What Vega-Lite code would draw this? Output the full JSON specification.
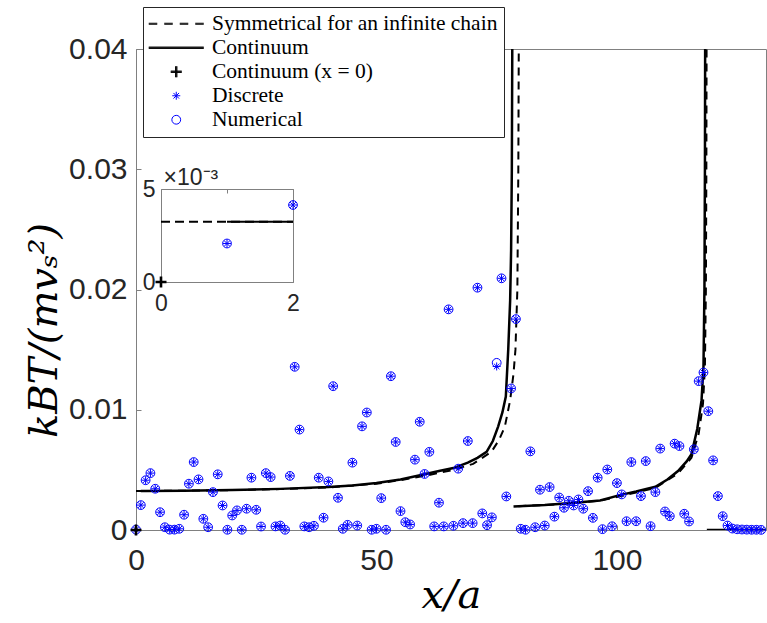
{
  "$schema": "https://vega.github.io/schema/vega-lite/v6.json",
  "width": 630,
  "height": 481,
  "autosize": {"type": "none"},
  "padding": {"left": 136, "top": 49, "right": 1, "bottom": 93},
  "background": "white",
  "config": {
    "view": {"stroke": "#808080", "strokeWidth": 1},
    "axis": {"grid": false, "domainColor": "#808080", "tickColor": "#808080", "labelColor": "#262626", "labelFont": "Liberation Sans", "titleFontWeight": "normal", "titleColor": "black"},
    "legend": {"orient": "none", "legendX": 7, "legendY": -42, "padding": 6, "fillColor": "white", "strokeColor": "#262626", "labelFont": "Liberation Serif", "labelFontSize": 21.5, "labelColor": "black", "labelOffset": 25, "symbolOffset": 16.5, "symbolSize": 400, "symbolStrokeWidth": 1, "rowPadding": 1, "labelLimit": 0}
  },
  "datasets": {
    "sites": [
      {"x": 0, "Discrete": 0.00003, "Numerical": 0.00003},
      {"x": 1, "Discrete": 0.00207, "Numerical": 0.00207},
      {"x": 2, "Discrete": 0.00414, "Numerical": 0.00414},
      {"x": 3, "Discrete": 0.00473, "Numerical": 0.00473},
      {"x": 4, "Discrete": 0.00343, "Numerical": 0.00343},
      {"x": 5, "Discrete": 0.00148, "Numerical": 0.00148},
      {"x": 6, "Discrete": 0.00023, "Numerical": 0.00023},
      {"x": 7, "Discrete": 0.00003, "Numerical": 0.00003},
      {"x": 8, "Discrete": 0.00003, "Numerical": 0.00003},
      {"x": 9, "Discrete": 0.0001, "Numerical": 0.0001},
      {"x": 10, "Discrete": 0.00127, "Numerical": 0.00127},
      {"x": 11, "Discrete": 0.00385, "Numerical": 0.00385},
      {"x": 12, "Discrete": 0.00565, "Numerical": 0.00565},
      {"x": 13, "Discrete": 0.00421, "Numerical": 0.00421},
      {"x": 14, "Discrete": 0.00093, "Numerical": 0.00093},
      {"x": 15, "Discrete": 0.00023, "Numerical": 0.00023},
      {"x": 16, "Discrete": 0.00315, "Numerical": 0.00315},
      {"x": 17, "Discrete": 0.00463, "Numerical": 0.00463},
      {"x": 18, "Discrete": 0.00204, "Numerical": 0.00204},
      {"x": 19, "Discrete": 0.00002, "Numerical": 0.00002},
      {"x": 20, "Discrete": 0.00121, "Numerical": 0.00121},
      {"x": 21, "Discrete": 0.00163, "Numerical": 0.00163},
      {"x": 22, "Discrete": 0.00002, "Numerical": 0.00002},
      {"x": 23, "Discrete": 0.00177, "Numerical": 0.00177},
      {"x": 24, "Discrete": 0.00435, "Numerical": 0.00435},
      {"x": 25, "Discrete": 0.00168, "Numerical": 0.00168},
      {"x": 26, "Discrete": 0.00029, "Numerical": 0.00029},
      {"x": 27, "Discrete": 0.00473, "Numerical": 0.00473},
      {"x": 28, "Discrete": 0.0044, "Numerical": 0.0044},
      {"x": 29, "Discrete": 0.0003, "Numerical": 0.0003},
      {"x": 30, "Discrete": 0.00037, "Numerical": 0.00037},
      {"x": 31, "Discrete": 0.00002, "Numerical": 0.00002},
      {"x": 32, "Discrete": 0.0045, "Numerical": 0.0045},
      {"x": 33, "Discrete": 0.01357, "Numerical": 0.01357},
      {"x": 34, "Discrete": 0.00835, "Numerical": 0.00835},
      {"x": 35, "Discrete": 0.0003, "Numerical": 0.0003},
      {"x": 36, "Discrete": 0.00023, "Numerical": 0.00023},
      {"x": 37, "Discrete": 0.00035, "Numerical": 0.00035},
      {"x": 38, "Discrete": 0.00435, "Numerical": 0.00435},
      {"x": 39, "Discrete": 0.00102, "Numerical": 0.00102},
      {"x": 40, "Discrete": 0.00404, "Numerical": 0.00404},
      {"x": 41, "Discrete": 0.01196, "Numerical": 0.01196},
      {"x": 42, "Discrete": 0.00268, "Numerical": 0.00268},
      {"x": 43, "Discrete": 0.0001, "Numerical": 0.0001},
      {"x": 44, "Discrete": 0.00043, "Numerical": 0.00043},
      {"x": 45, "Discrete": 0.0056, "Numerical": 0.0056},
      {"x": 46, "Discrete": 0.00037, "Numerical": 0.00037},
      {"x": 47, "Discrete": 0.00862, "Numerical": 0.00862},
      {"x": 48, "Discrete": 0.00977, "Numerical": 0.00977},
      {"x": 49, "Discrete": 0.00002, "Numerical": 0.00002},
      {"x": 50, "Discrete": 0.0001, "Numerical": 0.0001},
      {"x": 51, "Discrete": 0.00265, "Numerical": 0.00265},
      {"x": 52, "Discrete": 0.00002, "Numerical": 0.00002},
      {"x": 53, "Discrete": 0.01279, "Numerical": 0.01279},
      {"x": 54, "Discrete": 0.00732, "Numerical": 0.00732},
      {"x": 55, "Discrete": 0.00157, "Numerical": 0.00157},
      {"x": 56, "Discrete": 0.00065, "Numerical": 0.00065},
      {"x": 57, "Discrete": 0.00046, "Numerical": 0.00046},
      {"x": 58, "Discrete": 0.00585, "Numerical": 0.00585},
      {"x": 59, "Discrete": 0.009, "Numerical": 0.009},
      {"x": 60, "Discrete": 0.00466, "Numerical": 0.00466},
      {"x": 61, "Discrete": 0.0065, "Numerical": 0.0065},
      {"x": 62, "Discrete": 0.0003, "Numerical": 0.0003},
      {"x": 63, "Discrete": 0.00227, "Numerical": 0.00227},
      {"x": 64, "Discrete": 0.0003, "Numerical": 0.0003},
      {"x": 65, "Discrete": 0.01835, "Numerical": 0.01835},
      {"x": 66, "Discrete": 0.00035, "Numerical": 0.00035},
      {"x": 67, "Discrete": 0.0051, "Numerical": 0.0051},
      {"x": 68, "Discrete": 0.00057, "Numerical": 0.00057},
      {"x": 69, "Discrete": 0.0074, "Numerical": 0.0074},
      {"x": 70, "Discrete": 0.00057, "Numerical": 0.00057},
      {"x": 71, "Discrete": 0.02015, "Numerical": 0.02015},
      {"x": 72, "Discrete": 0.00138, "Numerical": 0.00138},
      {"x": 73, "Discrete": 0.0004, "Numerical": 0.0004},
      {"x": 74, "Discrete": 0.00105, "Numerical": 0.00105},
      {"x": 75, "Discrete": 0.0136, "Numerical": 0.0139},
      {"x": 76, "Discrete": 0.02093, "Numerical": 0.02093},
      {"x": 77, "Discrete": 0.00279, "Numerical": 0.00279},
      {"x": 78, "Discrete": 0.01177, "Numerical": 0.01177},
      {"x": 79, "Discrete": 0.01754, "Numerical": 0.01754},
      {"x": 80, "Discrete": 0.0001, "Numerical": 0.0001},
      {"x": 81, "Discrete": 0.00002, "Numerical": 0.00002},
      {"x": 82, "Discrete": 0.00654, "Numerical": 0.00654},
      {"x": 83, "Discrete": 0.00023, "Numerical": 0.00023},
      {"x": 84, "Discrete": 0.00335, "Numerical": 0.00335},
      {"x": 85, "Discrete": 0.00037, "Numerical": 0.00037},
      {"x": 86, "Discrete": 0.00357, "Numerical": 0.00357},
      {"x": 87, "Discrete": 0.00111, "Numerical": 0.00111},
      {"x": 88, "Discrete": 0.0027, "Numerical": 0.0027},
      {"x": 89, "Discrete": 0.00185, "Numerical": 0.00185},
      {"x": 90, "Discrete": 0.00243, "Numerical": 0.00243},
      {"x": 91, "Discrete": 0.00204, "Numerical": 0.00204},
      {"x": 92, "Discrete": 0.00254, "Numerical": 0.00254},
      {"x": 93, "Discrete": 0.00177, "Numerical": 0.00177},
      {"x": 94, "Discrete": 0.00323, "Numerical": 0.00323},
      {"x": 95, "Discrete": 0.00101, "Numerical": 0.00101},
      {"x": 96, "Discrete": 0.00435, "Numerical": 0.00435},
      {"x": 97, "Discrete": 0.00007, "Numerical": 0.00007},
      {"x": 98, "Discrete": 0.00503, "Numerical": 0.00503},
      {"x": 99, "Discrete": 0.00031, "Numerical": 0.00031},
      {"x": 100, "Discrete": 0.0039, "Numerical": 0.0039},
      {"x": 101, "Discrete": 0.00296, "Numerical": 0.00296},
      {"x": 102, "Discrete": 0.00073, "Numerical": 0.00073},
      {"x": 103, "Discrete": 0.00565, "Numerical": 0.00565},
      {"x": 104, "Discrete": 0.00073, "Numerical": 0.00073},
      {"x": 105, "Discrete": 0.00282, "Numerical": 0.00282},
      {"x": 106, "Discrete": 0.00573, "Numerical": 0.00573},
      {"x": 107, "Discrete": 0.00032, "Numerical": 0.00032},
      {"x": 108, "Discrete": 0.00315, "Numerical": 0.00315},
      {"x": 109, "Discrete": 0.00677, "Numerical": 0.00677},
      {"x": 110, "Discrete": 0.00154, "Numerical": 0.00154},
      {"x": 111, "Discrete": 0.00115, "Numerical": 0.00115},
      {"x": 112, "Discrete": 0.00718, "Numerical": 0.00718},
      {"x": 113, "Discrete": 0.00698, "Numerical": 0.00698},
      {"x": 114, "Discrete": 0.00135, "Numerical": 0.00135},
      {"x": 115, "Discrete": 0.00071, "Numerical": 0.00071},
      {"x": 116, "Discrete": 0.00671, "Numerical": 0.00671},
      {"x": 117, "Discrete": 0.01238, "Numerical": 0.01238},
      {"x": 118, "Discrete": 0.0131, "Numerical": 0.0131},
      {"x": 119, "Discrete": 0.00988, "Numerical": 0.00988},
      {"x": 120, "Discrete": 0.00579, "Numerical": 0.00579},
      {"x": 121, "Discrete": 0.00282, "Numerical": 0.00282},
      {"x": 122, "Discrete": 0.00115, "Numerical": 0.00115},
      {"x": 123, "Discrete": 0.00037, "Numerical": 0.00037},
      {"x": 124, "Discrete": 0.00012, "Numerical": 0.00012},
      {"x": 125, "Discrete": 0.00006, "Numerical": 0.00006},
      {"x": 126, "Discrete": 0.00004, "Numerical": 0.00004},
      {"x": 127, "Discrete": 0.00003, "Numerical": 0.00003},
      {"x": 128, "Discrete": 0.00002, "Numerical": 0.00002},
      {"x": 129, "Discrete": 0.00002, "Numerical": 0.00002},
      {"x": 130, "Discrete": 0.00001, "Numerical": 0.00001}
    ],
    "curves": [
      {"curve": "sym", "seg": 1, "x": 0, "y": 0.00324},
      {"curve": "sym", "seg": 1, "x": 1, "y": 0.00324},
      {"curve": "sym", "seg": 1, "x": 2, "y": 0.00324},
      {"curve": "sym", "seg": 1, "x": 10, "y": 0.00327},
      {"curve": "sym", "seg": 1, "x": 20, "y": 0.00332},
      {"curve": "sym", "seg": 1, "x": 30, "y": 0.0034},
      {"curve": "sym", "seg": 1, "x": 40, "y": 0.00354},
      {"curve": "sym", "seg": 1, "x": 50, "y": 0.00385},
      {"curve": "sym", "seg": 1, "x": 55, "y": 0.00415},
      {"curve": "sym", "seg": 1, "x": 60, "y": 0.0045},
      {"curve": "sym", "seg": 1, "x": 66, "y": 0.005},
      {"curve": "sym", "seg": 1, "x": 70.1, "y": 0.0055},
      {"curve": "sym", "seg": 1, "x": 72, "y": 0.006},
      {"curve": "sym", "seg": 1, "x": 73.9, "y": 0.0065},
      {"curve": "sym", "seg": 1, "x": 75.5, "y": 0.0075},
      {"curve": "sym", "seg": 1, "x": 76.7, "y": 0.0086},
      {"curve": "sym", "seg": 1, "x": 77.8, "y": 0.0108},
      {"curve": "sym", "seg": 1, "x": 78.5, "y": 0.013},
      {"curve": "sym", "seg": 1, "x": 78.9, "y": 0.015},
      {"curve": "sym", "seg": 1, "x": 79.3, "y": 0.02},
      {"curve": "sym", "seg": 1, "x": 79.5, "y": 0.03},
      {"curve": "sym", "seg": 1, "x": 79.6, "y": 0.041},
      {"curve": "cont", "seg": 1, "x": 1, "y": 0.00324},
      {"curve": "cont", "seg": 1, "x": 2, "y": 0.00324},
      {"curve": "cont", "seg": 1, "x": 10, "y": 0.00327},
      {"curve": "cont", "seg": 1, "x": 20, "y": 0.00333},
      {"curve": "cont", "seg": 1, "x": 30, "y": 0.00342},
      {"curve": "cont", "seg": 1, "x": 40, "y": 0.00357},
      {"curve": "cont", "seg": 1, "x": 45, "y": 0.0037},
      {"curve": "cont", "seg": 1, "x": 50, "y": 0.0039},
      {"curve": "cont", "seg": 1, "x": 55, "y": 0.0042},
      {"curve": "cont", "seg": 1, "x": 60, "y": 0.00463},
      {"curve": "cont", "seg": 1, "x": 63, "y": 0.0049},
      {"curve": "cont", "seg": 1, "x": 66, "y": 0.00515},
      {"curve": "cont", "seg": 1, "x": 69, "y": 0.0056},
      {"curve": "cont", "seg": 1, "x": 71, "y": 0.006},
      {"curve": "cont", "seg": 1, "x": 72.9, "y": 0.0065},
      {"curve": "cont", "seg": 1, "x": 74.2, "y": 0.0074},
      {"curve": "cont", "seg": 1, "x": 75.3, "y": 0.0086},
      {"curve": "cont", "seg": 1, "x": 76.2, "y": 0.0098},
      {"curve": "cont", "seg": 1, "x": 76.9, "y": 0.0111},
      {"curve": "cont", "seg": 1, "x": 77.4, "y": 0.015},
      {"curve": "cont", "seg": 1, "x": 77.8, "y": 0.0191},
      {"curve": "cont", "seg": 1, "x": 78.0, "y": 0.0233},
      {"curve": "cont", "seg": 1, "x": 78.15, "y": 0.03},
      {"curve": "cont", "seg": 1, "x": 78.25, "y": 0.041},
      {"curve": "sym", "seg": 2, "x": 79.5, "y": 0.00198},
      {"curve": "sym", "seg": 2, "x": 85, "y": 0.00207},
      {"curve": "sym", "seg": 2, "x": 90, "y": 0.0022},
      {"curve": "sym", "seg": 2, "x": 96.5, "y": 0.00243},
      {"curve": "sym", "seg": 2, "x": 100.6, "y": 0.0028},
      {"curve": "sym", "seg": 2, "x": 108, "y": 0.0035},
      {"curve": "sym", "seg": 2, "x": 112.7, "y": 0.0047},
      {"curve": "sym", "seg": 2, "x": 115.5, "y": 0.006},
      {"curve": "sym", "seg": 2, "x": 117, "y": 0.008},
      {"curve": "sym", "seg": 2, "x": 117.9, "y": 0.0105},
      {"curve": "sym", "seg": 2, "x": 118.3, "y": 0.0136},
      {"curve": "sym", "seg": 2, "x": 118.5, "y": 0.02},
      {"curve": "sym", "seg": 2, "x": 118.6, "y": 0.03},
      {"curve": "sym", "seg": 2, "x": 118.65, "y": 0.041},
      {"curve": "cont", "seg": 2, "x": 78.5, "y": 0.00196},
      {"curve": "cont", "seg": 2, "x": 85, "y": 0.00208},
      {"curve": "cont", "seg": 2, "x": 90, "y": 0.00222},
      {"curve": "cont", "seg": 2, "x": 96.5, "y": 0.00246},
      {"curve": "cont", "seg": 2, "x": 100.6, "y": 0.0029},
      {"curve": "cont", "seg": 2, "x": 104, "y": 0.0032},
      {"curve": "cont", "seg": 2, "x": 108, "y": 0.0036},
      {"curve": "cont", "seg": 2, "x": 110.5, "y": 0.0042},
      {"curve": "cont", "seg": 2, "x": 112.7, "y": 0.0049},
      {"curve": "cont", "seg": 2, "x": 114.5, "y": 0.0057},
      {"curve": "cont", "seg": 2, "x": 115.5, "y": 0.0063},
      {"curve": "cont", "seg": 2, "x": 116.7, "y": 0.0084},
      {"curve": "cont", "seg": 2, "x": 117.6, "y": 0.0108},
      {"curve": "cont", "seg": 2, "x": 118.0, "y": 0.0136},
      {"curve": "cont", "seg": 2, "x": 118.2, "y": 0.02},
      {"curve": "cont", "seg": 2, "x": 118.3, "y": 0.03},
      {"curve": "cont", "seg": 2, "x": 118.35, "y": 0.041},
      {"curve": "cont", "seg": 3, "x": 118.7, "y": 0},
      {"curve": "cont", "seg": 3, "x": 131, "y": 0}
    ],
    "cross": [
      {"x": 0, "y": 0, "series": "Continuum (x = 0)"}
    ]
  },
  "layer": [
    {
      "layer": [
        {
          "data": {"name": "curves"},
          "transform": [{"filter": "datum.curve == 'sym'"}],
          "mark": {"type": "line", "color": "black", "strokeWidth": 2, "strokeDash": [8, 6], "clip": true},
          "encoding": {
            "x": {"field": "x", "type": "quantitative", "scale": {"domain": [0, 131], "nice": false, "zero": false},
              "axis": {"values": [0, 50, 100], "title": "x/a", "labelFlush": false, "tickSize": -5, "labelPadding": 20, "labelFontSize": 30, "titleFont": "DejaVu Serif", "titleFontStyle": "italic", "titleFontSize": 40, "titlePadding": 0}},
            "y": {"field": "y", "type": "quantitative", "scale": {"domain": [0, 0.04], "nice": false, "zero": false},
              "axis": {"values": [0, 0.01, 0.02, 0.03, 0.04], "labelExpr": "datum.value == 0 ? '0' : format(datum.value, '.2f')", "title": "kBT/(mvₛ²)", "tickSize": -5, "labelPadding": 14, "labelFontSize": 30, "titleFont": "DejaVu Serif", "titleFontStyle": "italic", "titleFontSize": 40, "titlePadding": 4, "titleY": 281}},
            "detail": {"field": "seg"}
          }
        },
        {
          "data": {"name": "curves"},
          "transform": [{"filter": "datum.curve == 'cont'"}],
          "mark": {"type": "line", "color": "black", "strokeWidth": 2.5, "clip": true},
          "encoding": {
            "x": {"field": "x", "type": "quantitative"},
            "y": {"field": "y", "type": "quantitative"},
            "detail": {"field": "seg"}
          }
        },
        {
          "data": {"name": "sites"},
          "transform": [{"fold": ["Numerical", "Discrete"], "as": ["series", "y"]}],
          "mark": {"type": "point", "filled": false, "size": 400, "opacity": 1, "strokeWidth": 1},
          "encoding": {
            "x": {"field": "x", "type": "quantitative"},
            "y": {"field": "y", "type": "quantitative"},
            "shape": {"field": "series", "type": "nominal",
              "scale": {"domain": ["Symmetrical for an infinite chain", "Continuum", "Continuum (x = 0)", "Discrete", "Numerical"],
                "range": [
                  "M-2.75,-0.05H-1.9M-2.75,0.05H-1.9M-1.2,-0.05H-0.35M-1.2,0.05H-0.35M0.35,-0.05H1.2M0.35,0.05H1.2M1.9,-0.05H2.75M1.9,0.05H2.75",
                  "M-2.75,-0.07H2.75M-2.75,0H2.75M-2.75,0.07H2.75",
                  "M-0.55,-0.07H0.55M-0.55,0H0.55M-0.55,0.07H0.55M-0.07,-0.55V0.55M0,-0.55V0.55M0.07,-0.55V0.55",
                  "M0,-0.4V0.4M-0.4,0H0.4M-0.28,-0.28L0.28,0.28M-0.28,0.28L0.28,-0.28",
                  "M-0.44,0A0.44,0.44 0 1,1 0.44,0A0.44,0.44 0 1,1 -0.44,0Z"]},
              "legend": {"title": null, "orient": "none", "legendX": 7, "legendY": -42}},
            "color": {"field": "series", "type": "nominal",
              "scale": {"domain": ["Symmetrical for an infinite chain", "Continuum", "Continuum (x = 0)", "Discrete", "Numerical"], "range": ["black", "black", "black", "blue", "blue"]},
              "legend": {"title": null, "orient": "none", "legendX": 7, "legendY": -42}}
          }
        },
        {
          "data": {"name": "cross"},
          "mark": {"type": "point", "filled": false, "size": 400, "opacity": 1, "strokeWidth": 1.2},
          "encoding": {
            "x": {"field": "x", "type": "quantitative"},
            "y": {"field": "y", "type": "quantitative"},
            "shape": {"field": "series", "type": "nominal"},
            "color": {"field": "series", "type": "nominal"}
          }
        }
      ]
    },
    {
      "layer": [
        {
          "data": {"name": "curves"},
          "transform": [{"filter": "datum.curve == 'sym' && datum.x <= 2"}],
          "mark": {"type": "line", "color": "black", "strokeWidth": 2, "strokeDash": [9, 5]},
          "encoding": {
            "x": {"field": "x", "type": "quantitative", "scale": {"domain": [0, 2], "range": [25, 157], "nice": false, "zero": false},
              "axis": {"orient": "top", "offset": -140, "values": [0, 1, 2], "labels": false, "tickSize": -4, "title": null}},
            "y": {"field": "y", "type": "quantitative", "scale": {"domain": [0, 0.005], "range": [233, 140], "nice": false, "zero": false},
              "axis": {"orient": "right", "offset": -473, "values": [0, 0.005], "labels": false, "tickSize": -4, "title": null}}
          }
        },
        {
          "layer": [
            {
              "data": {"name": "curves"},
              "transform": [{"filter": "datum.curve == 'cont' && datum.x <= 2"}],
              "mark": {"type": "line", "color": "black", "strokeWidth": 2.2},
              "encoding": {
                "x": {"field": "x", "type": "quantitative", "scale": {"domain": [0, 2], "range": [25, 157], "nice": false, "zero": false},
                  "axis": {"orient": "bottom", "offset": -248, "values": [0, 1, 2], "format": "d", "labelFlush": false, "tickSize": -4, "labelPadding": 14, "labelFontSize": 23, "title": null}},
                "y": {"field": "y", "type": "quantitative", "scale": {"domain": [0, 0.005], "range": [233, 140], "nice": false, "zero": false},
                  "axis": {"orient": "left", "offset": -25, "values": [0, 0.005], "labelExpr": "datum.value == 0 ? '0' : '5'", "tickSize": -4, "labelPadding": 10, "labelFontSize": 23,
                    "title": "×10⁻³", "titleFont": "Liberation Sans", "titleFontSize": 23, "titleColor": "#262626", "titleAngle": 0, "titleAlign": "left", "titleBaseline": "alphabetic", "titleX": 2, "titleY": 135}}
              }
            },
            {
              "data": {"name": "sites"},
              "transform": [{"filter": "datum.x > 0 && datum.x <= 2"}],
              "mark": {"type": "point", "filled": false, "size": 400, "opacity": 1, "color": "blue", "strokeWidth": 1, "shape": "M-0.44,0A0.44,0.44 0 1,1 0.44,0A0.44,0.44 0 1,1 -0.44,0Z"},
              "encoding": {
                "x": {"field": "x", "type": "quantitative"},
                "y": {"field": "Numerical", "type": "quantitative"}
              }
            },
            {
              "data": {"name": "sites"},
              "transform": [{"filter": "datum.x > 0 && datum.x <= 2"}],
              "mark": {"type": "point", "filled": false, "size": 400, "opacity": 1, "color": "blue", "strokeWidth": 1, "shape": "M0,-0.4V0.4M-0.4,0H0.4M-0.28,-0.28L0.28,0.28M-0.28,0.28L0.28,-0.28"},
              "encoding": {
                "x": {"field": "x", "type": "quantitative"},
                "y": {"field": "Discrete", "type": "quantitative"}
              }
            },
            {
              "data": {"name": "cross"},
              "mark": {"type": "point", "filled": false, "size": 400, "opacity": 1, "color": "black", "strokeWidth": 1.2, "shape": "M-0.55,-0.07H0.55M-0.55,0H0.55M-0.55,0.07H0.55M-0.07,-0.55V0.55M0,-0.55V0.55M0.07,-0.55V0.55"},
              "encoding": {
                "x": {"field": "x", "type": "quantitative"},
                "y": {"field": "y", "type": "quantitative"}
              }
            }
          ]
        }
      ],
      "resolve": {"scale": {"x": "independent", "y": "independent"}, "axis": {"x": "independent", "y": "independent"}}
    }
  ],
  "resolve": {"scale": {"x": "independent", "y": "independent"}, "axis": {"x": "independent", "y": "independent"}}
}
